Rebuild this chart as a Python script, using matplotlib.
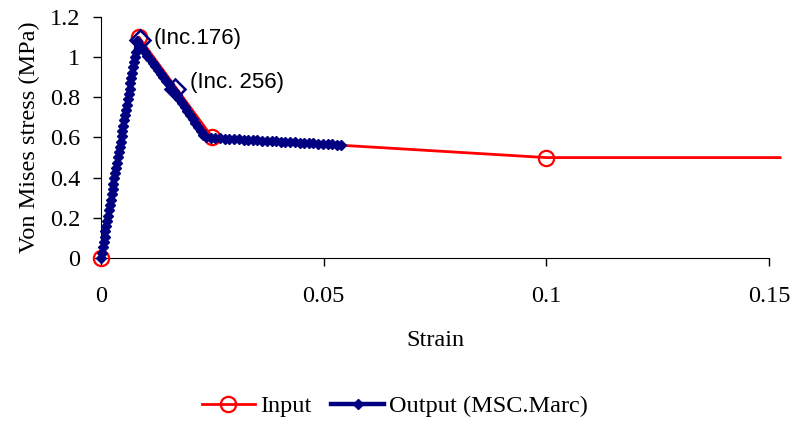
import matplotlib.pyplot as plt

plt.rcParams['font.family'] = 'serif'
plt.rcParams['font.serif'] = ['Liberation Serif', 'TeX Gyre Termes', 'DejaVu Serif']
plt.rcParams['font.sans-serif'] = ['Liberation Sans', 'DejaVu Sans']

# input curve (stress-strain law given to the solver)
in_strain = [0.0, 0.0085, 0.025, 0.1, 0.1525]
in_stress = [0.0, 1.10, 0.60, 0.50, 0.50]

# solver output, one point per increment
out_strain = [
    0.0000, 0.0002, 0.0004, 0.0006, 0.0008, 0.0010, 0.0012, 0.0014, 0.0016,
    0.0018, 0.0020, 0.0022, 0.0024, 0.0026, 0.0028, 0.0030, 0.0032, 0.0034,
    0.0036, 0.0038, 0.0040, 0.0042, 0.0044, 0.0046, 0.0048, 0.0050, 0.0052,
    0.0054, 0.0056, 0.0058, 0.0060, 0.0062, 0.0064, 0.0066, 0.0068, 0.0070,
    0.0072, 0.0074, 0.0076, 0.0078, 0.0080,
    0.0086, 0.0092, 0.0098, 0.0104, 0.0110, 0.0116, 0.0122, 0.0128, 0.0134,
    0.0140, 0.0146, 0.0152, 0.0158, 0.0164, 0.0170, 0.0176, 0.0182, 0.0188,
    0.0194, 0.0200, 0.0206, 0.0212, 0.0218, 0.0224, 0.0230,
    0.0236, 0.0246, 0.0257, 0.0267, 0.0278, 0.0288, 0.0299, 0.0309, 0.0320,
    0.0330, 0.0341, 0.0351, 0.0362, 0.0372, 0.0383, 0.0393, 0.0404, 0.0414,
    0.0425, 0.0435, 0.0446, 0.0456, 0.0467, 0.0477, 0.0488, 0.0498, 0.0509,
    0.0519, 0.0530, 0.0540,
]
out_stress = [
    0.000, 0.027, 0.053, 0.080, 0.106, 0.132, 0.158, 0.185, 0.211,
    0.238, 0.264, 0.290, 0.317, 0.343, 0.369, 0.396, 0.422, 0.448,
    0.475, 0.501, 0.527, 0.554, 0.580, 0.606, 0.633, 0.659, 0.685,
    0.712, 0.738, 0.764, 0.791, 0.817, 0.843, 0.870, 0.896, 0.922,
    0.949, 0.975, 1.001, 1.028, 1.080,
    1.062, 1.044, 1.026, 1.008, 0.990, 0.972, 0.954, 0.936, 0.918,
    0.900, 0.882, 0.865, 0.848, 0.830, 0.811, 0.791, 0.771, 0.751,
    0.731, 0.711, 0.691, 0.671, 0.651, 0.631, 0.612,
    0.600, 0.598, 0.597, 0.596, 0.595, 0.593, 0.592, 0.591, 0.590,
    0.589, 0.587, 0.586, 0.585, 0.584, 0.583, 0.581, 0.580, 0.579,
    0.578, 0.577, 0.575, 0.574, 0.573, 0.572, 0.570, 0.569, 0.568,
    0.567, 0.565, 0.563,
]

# highlighted increments
inc_labels = ['(Inc.176)', '(Inc. 256)']
inc_strain = [0.0088, 0.0166]
inc_stress = [1.085, 0.84]

fig = plt.figure(figsize=(7.93, 4.21), dpi=100)
ax = fig.add_axes([0.1274, 0.3872, 0.8423, 0.5724])

# circles only on the real input points, the last one just carries the line on
ax.plot(in_strain, in_stress, color='red', lw=2, marker='o', ms=11,
        markevery=[0, 1, 2, 3], mfc='none', mec='red', mew=1.6,
        label='Input', clip_on=False, zorder=3)
ax.plot(out_strain, out_stress, color='#000080', lw=3.2, marker='D', ms=5,
        mfc='#000080', mec='#000080', label='Output (MSC.Marc)',
        clip_on=False, zorder=4)
ax.plot(inc_strain, inc_stress, ls='none', marker='D', ms=10, mfc='none',
        mec='#000080', mew=1.8, clip_on=False, zorder=5)

ax.annotate(inc_labels[0], (inc_strain[0], inc_stress[0]), xytext=(10, 1),
            textcoords='offset points', fontsize=16, family='sans-serif',
            va='center', ha='left')
ax.annotate(inc_labels[1], (inc_strain[1], inc_stress[1]), xytext=(11, 5),
            textcoords='offset points', fontsize=16, family='sans-serif',
            va='center', ha='left')

ax.set_xlim(0, 0.15)
ax.set_ylim(0, 1.2)
ax.set_xticks([0, 0.05, 0.1, 0.15])
ax.set_xticklabels(['0', '0.05', '0.1', '0.15'])
ax.set_yticks([0, 0.2, 0.4, 0.6, 0.8, 1.0, 1.2])
ax.set_yticklabels(['0', '0.2', '0.4', '0.6', '0.8', '1', '1.2'])
ax.tick_params(labelsize=17.5, length=6, width=1, pad=14, direction='out')
ax.tick_params(axis='y', pad=9)
ax.spines['top'].set_visible(False)
ax.spines['right'].set_visible(False)
ax.set_xlabel('Strain', fontsize=17.5, labelpad=17)
ax.set_ylabel('Von Mises stress (MPa)', fontsize=17.5, labelpad=7)

fig.legend(loc='center', bbox_to_anchor=(0.498, 0.035), ncol=2, frameon=False,
           fontsize=17.5, handlelength=2.2, columnspacing=0.8,
           handletextpad=0.2)

fig.savefig('out.png', dpi=100)
